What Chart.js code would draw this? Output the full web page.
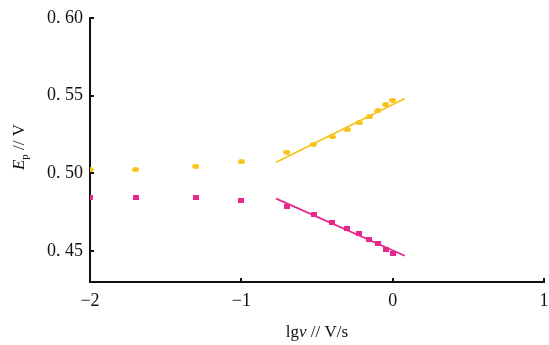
<!DOCTYPE html>
<html lang="zh">
<head>
<meta charset="UTF-8">
<title>Ep - lgv</title>
<script src="https://cdn.jsdelivr.net/npm/chart.js"></script>
<style>
  html, body { margin: 0; padding: 0; background: #fff; }
  #wrap { width: 549px; height: 345px; }
</style>
</head>
<body>
<div id="wrap"><canvas id="epChart" width="549" height="345"></canvas></div>
<script>
// lg of scan rate (V/s)
const lgv = [-2, -1.699, -1.301, -1, -0.699, -0.523, -0.398, -0.301, -0.222, -0.155, -0.097, -0.046, 0];
// anodic peak potential (V)
const epAnodic = [0.5024, 0.5024, 0.5045, 0.5075, 0.5137, 0.5187, 0.5234, 0.5282, 0.5325, 0.5363, 0.5402, 0.5443, 0.5471];
// cathodic peak potential (V)
const epCathodic = [0.4847, 0.4847, 0.4847, 0.4828, 0.4787, 0.4737, 0.4686, 0.4647, 0.4613, 0.4574, 0.4546, 0.4510, 0.4482];
// linear fits over the high scan-rate range
const fitX = [-0.77, 0.08];
const fitAnodic = [0.5071, 0.5482];
const fitCathodic = [0.4837, 0.4469];

const yTicks = [0.45, 0.50, 0.55, 0.60];
const xTicks = [-2, -1, 0, 1];

const yellow = '#f7c31a';
const pink = '#e8278c';
const serif = '"Liberation Serif", "DejaVu Serif", serif';

function pts(xs, ys) { return xs.map((x, i) => ({ x: x, y: ys[i] })); }

// small ellipse / rectangle markers
function marker(w, h, color, shape) {
  const c = document.createElement('canvas');
  c.width = w; c.height = h;
  const g = c.getContext('2d');
  g.fillStyle = color;
  if (shape === 'ellipse') {
    g.beginPath();
    g.ellipse(w / 2, h / 2, w / 2, h / 2, 0, 0, Math.PI * 2);
    g.fill();
  } else {
    g.fillRect(0, 0, w, h);
  }
  return c;
}

// text made of pieces: plain / italic / subscript
function richWidth(ctx, parts, size) {
  let w = 0;
  parts.forEach(p => {
    const s = p.sub ? size * 0.65 : size;
    ctx.font = (p.italic ? 'italic ' : '') + s + 'px ' + serif;
    w += ctx.measureText(p.text).width;
  });
  return w;
}
function drawRich(ctx, parts, cx, cy, size) {
  let x = cx - richWidth(ctx, parts, size) / 2;
  ctx.textBaseline = 'middle';
  ctx.textAlign = 'left';
  ctx.fillStyle = '#111';
  parts.forEach(p => {
    const s = p.sub ? size * 0.65 : size;
    ctx.font = (p.italic ? 'italic ' : '') + s + 'px ' + serif;
    ctx.fillText(p.text, x, cy + (p.sub ? size * 0.3 : 0));
    x += ctx.measureText(p.text).width;
  });
}

const axisTitles = {
  id: 'axisTitles',
  afterDraw(chart) {
    const ctx = chart.ctx;
    const area = chart.chartArea;
    ctx.save();
    // x title
    drawRich(ctx, [
      { text: 'lg' }, { text: 'v', italic: true }, { text: ' // V/s' }
    ], (area.left + area.right) / 2 - 0, 333, 17);
    // y title, rotated
    ctx.translate(20, 147);
    ctx.rotate(-Math.PI / 2);
    drawRich(ctx, [
      { text: 'E', italic: true }, { text: 'p', sub: true }, { text: ' // V' }
    ], 0, 0, 17);
    ctx.restore();
  }
};

const ctx = document.getElementById('epChart').getContext('2d');
new Chart(ctx, {
  type: 'scatter',
  data: {
    datasets: [
      {
        label: 'anodic',
        data: pts(lgv, epAnodic),
        pointStyle: marker(7, 5, yellow, 'ellipse'),
        backgroundColor: yellow
      },
      {
        label: 'cathodic',
        data: pts(lgv, epCathodic),
        pointStyle: marker(6, 5, pink, 'rect'),
        backgroundColor: pink
      },
      {
        label: 'anodic fit',
        data: pts(fitX, fitAnodic),
        showLine: true,
        pointRadius: 0,
        borderColor: yellow,
        borderWidth: 1.8
      },
      {
        label: 'cathodic fit',
        data: pts(fitX, fitCathodic),
        showLine: true,
        pointRadius: 0,
        borderColor: pink,
        borderWidth: 1.8
      }
    ]
  },
  options: {
    responsive: false,
    animation: false,
    layout: { padding: { top: 18, right: 3, left: 0, bottom: 0 } },
    plugins: {
      legend: { display: false },
      tooltip: { enabled: false }
    },
    scales: {
      x: {
        type: 'linear',
        min: -2,
        max: 1,
        afterBuildTicks: s => { s.ticks = xTicks.map(v => ({ value: v })); },
        afterFit: s => { s.height = 63; s.paddingLeft = 0; s.paddingRight = 0; },
        ticks: {
          color: '#111',
          font: { family: serif, size: 18 },
          padding: 12,
          maxRotation: 0,
          callback: v => (v < 0 ? '\u2212' + Math.abs(v) : String(v))
        },
        grid: { drawOnChartArea: false, tickLength: -4, color: '#111', lineWidth: 2 },
        border: { display: true, color: '#111', width: 2 }
      },
      y: {
        type: 'linear',
        min: 0.43,
        max: 0.60,
        afterBuildTicks: s => { s.ticks = yTicks.map(v => ({ value: v })); },
        afterFit: s => { s.width = 90; s.paddingTop = 0; s.paddingBottom = 0; },
        ticks: {
          color: '#111',
          font: { family: serif, size: 18 },
          padding: 11,
          callback: v => v.toFixed(2).replace('.', '. ')
        },
        grid: { drawOnChartArea: false, tickLength: -4, color: '#111', lineWidth: 2 },
        border: { display: true, color: '#111', width: 2 }
      }
    }
  },
  plugins: [axisTitles]
});
</script>
</body>
</html>
